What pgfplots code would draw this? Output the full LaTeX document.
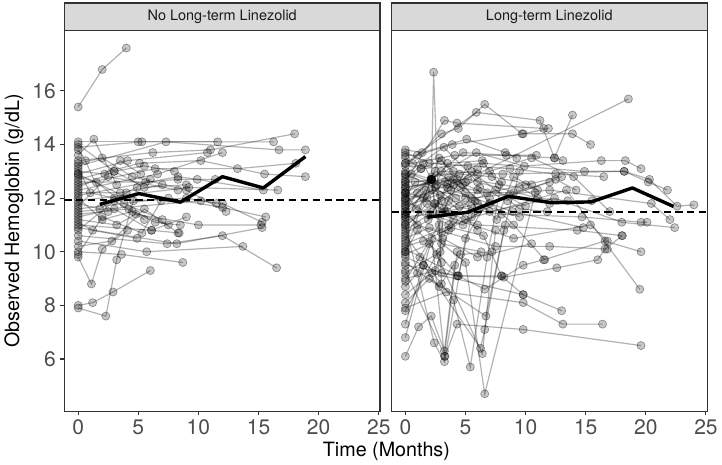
\documentclass[border=0pt]{standalone}
\usepackage{fontspec}
\setmainfont{TeX Gyre Heros}
\usepackage{pgfplots}
\pgfplotsset{compat=1.18}
\definecolor{grey10}{HTML}{1A1A1A}
\definecolor{grey20}{HTML}{333333}
\definecolor{grey30}{HTML}{4D4D4D}
\definecolor{grey85}{HTML}{D9D9D9}

\pgfplotsset{
  panel/.style={
    scale only axis, width=240.2pt, height=289.7pt,
    xmin=-1.15, xmax=25.1, ymin=4.05, ymax=18.25,
    axis line style={grey20, line width=0.8pt},
    xtick={0,5,...,25}, ytick={6,8,...,16},
    tick align=outside, major tick length=3pt,
    tick style={grey20, line width=0.8pt},
    xtick pos=left, ytick pos=left,
    ticklabel style={font=\fontsize{16}{19}\selectfont, text=grey30},
    /pgf/number format/assume math mode=true,
    clip mode=individual,
  },
  traj/.style={draw=black, draw opacity=0.3, line width=0.9pt,
    mark=*, mark size=3.1pt,
    mark options={fill=black, fill opacity=0.22, draw opacity=0.38, line width=0.5pt}},
  avg/.style={black, line width=2.6pt, line join=round, no marks},
  ref/.style={black, line width=1.3pt, dash pattern=on 5.5pt off 3.5pt, no marks},
}

\begin{document}
\begin{tikzpicture}
% ---------- No long-term linezolid ----------
\begin{axis}[panel, name=L,
  ylabel={Observed Hemoglobin (g/dL)},
  ylabel style={font=\fontsize{15}{18}\selectfont, text=black}]
\addplot[traj] coordinates {(0,15.4)(2.0,16.8)(4.0,17.6)};
\addplot[traj] coordinates {(0,8.0)(1.2,8.1)(2.9,8.5)(6.0,9.3)};
\addplot[traj] coordinates {(0,7.9)(2.3,7.6)(3.2,9.7)(4.9,12.4)};
\addplot[traj] coordinates {(0,9.8)(1.1,8.8)(2.0,10.1)(4.1,10.8)};
\addplot[traj] coordinates {(0,10.0)(3.6,9.9)(8.7,9.6)};
\addplot[traj] coordinates {(0,10.4)(5.7,10.0)(13.7,10.2)};
\addplot[traj] coordinates {(0,10.6)(7.4,10.3)(12.0,10.6)(16.5,9.4)};
\addplot[traj] coordinates {(0,10.9)(8.2,10.3)(15.3,10.9)};
\addplot[traj] coordinates {(0,14.1)(5.0,14.1)(11.6,14.1)};
\addplot[traj] coordinates {(0,13.9)(5.3,14.1)(16.25,14.1)};
\addplot[traj] coordinates {(0,13.6)(1.3,14.2)(3.2,12.5)};
\addplot[traj] coordinates {(0,13.4)(6.2,13.7)(11.0,13.8)(18.0,14.4)};
\addplot[traj] coordinates {(0,13.2)(7.3,14.1)(16.7,13.8)(18.9,13.8)};
\addplot[traj] coordinates {(0,12.9)(4.1,13.4)(10.75,13.7)};
\addplot[traj] coordinates {(0,12.7)(5.1,13.3)(10.2,13.4)(15.5,12.9)(18.9,12.8)};
\addplot[traj] coordinates {(0,12.5)(6.4,13.1)(13.25,13.1)(18.1,13.3)};
\addplot[traj] coordinates {(0,12.3)(6.6,12.9)(12.0,13.7)};
\addplot[traj] coordinates {(0,12.1)(8.3,12.8)(9.9,12.7)(15.4,12.3)};
\addplot[traj] coordinates {(0,11.9)(9.2,12.4)(16.6,12.3)};
\addplot[traj] coordinates {(0,11.7)(2.5,12.8)(8.3,12.3)};
\addplot[traj] coordinates {(0,11.6)(7.5,12.0)(12.0,11.65)(15.6,11.3)};
\addplot[traj] coordinates {(0,11.5)(10.2,11.9)(12.0,11.8)(15.3,11.1)};
\addplot[traj] coordinates {(0,11.3)(3.0,11.6)(6.1,10.8)(9.0,11.3)};
\addplot[traj] coordinates {(0,11.1)(1.2,10.8)(4.9,10.5)};
\addplot[traj] coordinates {(0,13.8)(0.6,13.4)(2.5,11.5)};
\addplot[traj] coordinates {(0,12.8)(1.5,12.6)(3.8,11.8)(7.0,11.2)};
\addplot[traj] coordinates {(0,12.0)(2.0,11.2)(4.5,11.5)(7.5,11.0)};
\addplot[traj] coordinates {(0,10.8)(3.0,11.9)(5.5,11.2)};
\addplot[traj] coordinates {(0,11.8)(1.8,11.6)(4.0,12.2)(6.0,12.7)};
\addplot[traj] coordinates {(0,12.4)(3.0,13.0)(5.5,12.4)(9.0,12.5)};
\addplot[traj] coordinates {(0,13.0)(2.2,12.9)(3.5,13.4)(5.2,12.9)};
\addplot[traj] coordinates {(0,10.2)(2.8,10.4)(5.5,11.6)(8.3,10.7)};
\addplot[traj] coordinates {(0,11.4)(4.2,11.6)(6.4,11.1)(8.5,11.0)};
\addplot[traj] coordinates {(0,12.6)(5.6,12.6)(8.3,12.7)(11.4,12.7)};
\addplot[traj] coordinates {(0,11.0)(6.1,10.8)(8.4,10.7)};
\addplot[traj] coordinates {(0,12.2)(3.5,12.2)(7.0,12.5)};
\addplot[traj] coordinates {(0,13.3)(2.0,13.5)(4.5,12.8)(9.0,12.3)(12.3,11.5)};
\addplot[traj] coordinates {(0,9.9)(2.0,11.3)(5.3,10.7)(6.9,11.9)};
\addplot[traj] coordinates {(0,13.1)(1.0,12.2)(3.0,12.0)};
\addplot[traj] coordinates {(0,12.9)(4.6,11.9)(9.0,12.0)(11.5,11.8)};
\addplot[traj] coordinates {(0,11.2)(3.2,11.0)(4.8,11.4)(10.0,11.0)(15.2,11.0)};
\addplot[traj] coordinates {(0,14.0)(3.0,13.0)(5.5,13.2)(8.0,13.0)};
\addplot[ref] coordinates {(-1.15,11.93)(25.1,11.93)};
\addplot[avg] coordinates {(1.8,11.77)(5.05,12.17)(8.5,11.85)(12.0,12.8)(15.4,12.38)(18.9,13.55)};
\end{axis}
% ---------- Long-term linezolid ----------
\begin{axis}[panel, name=R, at={(249pt,0)}, ytick=\empty]
\addplot[traj] coordinates {(0,12.4)(2.15,12.6)(2.35,16.7)(3.0,8.8)};
\addplot[traj] coordinates {(0,9.3)(3.3,6.1)(4.3,7.3)(9.8,7.1)(19.6,6.5)};
\addplot[traj] coordinates {(0,8.4)(2.2,9.2)(9.8,8.4)(13.0,7.8)};
\addplot[traj] coordinates {(0,7.9)(3.4,8.5)(9.8,8.1)(13.1,7.3)(16.4,7.3)};
\addplot[traj] coordinates {(0,11.4)(5.0,9.6)(6.6,4.7)(10.8,12.2)};
\addplot[traj] coordinates {(0,10.6)(4.0,8.2)(5.4,5.7)(6.8,9.8)(8.0,12.6)};
\addplot[traj] coordinates {(0,11.0)(2.4,6.6)(3.25,5.9)(5.0,10.5)(7.0,12.0)};
\addplot[traj] coordinates {(0,6.1)(1.1,7.2)(2.15,7.6)(3.25,6.3)(4.1,9.5)};
\addplot[traj] coordinates {(0,6.8)(2.2,10.5)(3.25,6.1)(4.3,10.0)};
\addplot[traj] coordinates {(0,7.3)(1.5,9.5)(6.25,6.4)(6.6,7.1)(8.2,10.8)};
\addplot[traj] coordinates {(0,7.8)(2.6,9.9)(6.4,6.2)(7.5,10.8)};
\addplot[traj] coordinates {(0,8.1)(2.0,9.0)(6.7,7.6)(8.3,11.0)(9.5,13.0)};
\addplot[traj] coordinates {(0,9.5)(4.4,9.1)(8.2,9.05)(12.6,9.4)(16.0,9.7)(16.6,10.1)(18.05,10.6)};
\addplot[traj] coordinates {(0,10.1)(6.6,8.6)(9.8,9.5)(11.5,9.7)(16.6,10.4)(19.6,10.0)};
\addplot[traj] coordinates {(0,10.3)(5.0,11.2)(13.4,12.3)(19.5,8.6)};
\addplot[traj] coordinates {(0,13.3)(5.9,15.2)(11.2,14.9)(12.4,13.5)(13.9,15.1)};
\addplot[traj] coordinates {(0,13.2)(3.0,14.4)(4.4,14.6)(6.6,15.5)(9.7,14.4)(13.9,14.4)(15.4,14.0)};
\addplot[traj] coordinates {(0,12.6)(3.25,14.9)(4.3,14.8)(11.5,14.6)};
\addplot[traj] coordinates {(0,11.9)(6.0,12.9)(18.55,15.7)};
\addplot[traj] coordinates {(0,13.8)(1.4,13.7)(5.1,14.2)(8.3,13.7)(9.26,13.5)};
\addplot[traj] coordinates {(0,13.6)(1.0,13.6)(3.9,14.0)(9.8,14.4)(11.9,14.6)};
\addplot[traj] coordinates {(0,13.3)(0.6,13.3)(4.1,13.6)(10.9,13.6)};
\addplot[traj] coordinates {(0,12.2)(2.16,12.7)(4.8,13.7)(8.4,13.6)(12.4,13.5)(13.1,13.4)};
\addplot[traj] coordinates {(0,11.8)(2.16,12.7)(5.9,13.7)(9.9,13.2)(16.3,13.4)(18.3,13.4)(19.6,13.1)};
\addplot[traj] coordinates {(0,12.5)(1.3,13.1)(6.5,13.3)(14.9,13.0)(18.2,13.0)(20.2,12.6)(21.8,12.3)};
\addplot[traj] coordinates {(0,12.0)(3.0,13.0)(8.1,12.9)(18.2,13.0)(20.3,12.7)(22.6,11.7)(24.0,11.75)};
\addplot[traj] coordinates {(0,11.6)(2.2,12.3)(5.5,12.0)(12.0,12.3)(20.46,11.8)(22.0,11.2)};
\addplot[traj] coordinates {(0,11.3)(3.3,12.6)(7.0,11.5)(12.4,12.0)(18.0,11.1)(22.4,10.9)};
\addplot[traj] coordinates {(0,11.1)(2.5,11.8)(8.0,11.4)(14.7,11.3)(19.6,11.1)(20.1,11.1)};
\addplot[traj] coordinates {(0,10.9)(1.8,11.8)(6.0,11.0)(14.3,10.8)(18.0,10.6)};
\addplot[traj] coordinates {(0,10.7)(2.8,11.4)(9.0,10.5)(15.4,11.0)(16.8,10.4)};
\addplot[traj] coordinates {(0,10.5)(2.0,10.9)(7.5,10.2)(12.0,10.2)(16.8,10.1)};
\addplot[traj] coordinates {(0,12.1)(1.5,12.0)(3.5,11.5)(6.0,11.8)(9.5,11.3)};
\addplot[traj] coordinates {(0,12.9)(2.5,12.4)(4.5,11.7)(7.5,12.3)(10.0,11.7)};
\addplot[traj] coordinates {(0,11.5)(1.0,11.0)(3.0,10.7)(5.5,11.3)(8.6,12.1)};
\addplot[traj] coordinates {(0,12.3)(3.6,12.8)(5.0,12.2)(9.0,12.2)(12.0,12.6)};
\addplot[traj] coordinates {(0,10.2)(1.5,10.4)(3.8,10.9)(6.5,10.6)(8.0,9.1)};
\addplot[traj] coordinates {(0,9.8)(1.5,9.5)(3.0,9.2)(4.3,9.1)(8.0,9.1)(9.8,8.4)};
\addplot[traj] coordinates {(0,9.6)(2.8,8.7)(4.6,9.9)(7.2,10.0)};
\addplot[traj] coordinates {(0,9.0)(2.5,9.3)(3.6,10.8)(5.5,11.7)};
\addplot[traj] coordinates {(0,8.9)(1.2,9.8)(2.8,11.0)(4.0,12.5)(6.0,13.1)};
\addplot[traj] coordinates {(0,12.7)(1.5,13.3)(2.16,12.7)(3.5,12.4)(5.0,12.6)};
\addplot[traj] coordinates {(0,13.0)(2.16,12.7)(2.8,13.5)(4.0,13.0)};
\addplot[traj] coordinates {(0,12.0)(0.8,12.6)(2.16,12.7)(4.2,12.0)(6.0,11.5)};
\addplot[traj] coordinates {(0,11.7)(2.16,12.7)(3.3,11.5)(5.0,12.0)};
\addplot[traj] coordinates {(0,11.2)(2.16,12.7)(3.0,10.3)(6.3,10.0)};
\addplot[traj] coordinates {(0,12.8)(0.5,12.9)(2.6,12.5)(4.5,12.9)(7.2,12.8)(10.5,12.5)};
\addplot[traj] coordinates {(0,10.4)(2.16,12.7)(2.4,11.8)(4.0,11.2)};
\addplot[traj] coordinates {(0,11.9)(3.6,11.0)(6.2,12.4)(8.5,11.9)};
\addplot[traj] coordinates {(0,12.4)(4.3,12.7)(7.6,11.2)(9.0,12.8)(11.0,12.3)};
\addplot[traj] coordinates {(0,9.2)(2.9,10.0)(3.2,11.6)(5.2,13.2)};
\addplot[traj] coordinates {(0,13.5)(1.3,13.1)(3.0,13.4)(4.8,12.5)};
\addplot[traj] coordinates {(0,10.8)(2.3,11.5)(4.0,12.7)(6.0,12.3)(9.0,11.0)(11.6,9.7)};
\addplot[traj] coordinates {(0,12.2)(1.8,12.0)(3.5,13.3)(6.4,13.4)(7.8,12.5)};
\addplot[traj] coordinates {(0,11.0)(3.0,11.9)(7.0,13.0)(10.5,13.5)(14.0,12.8)(17.0,11.5)};
\addplot[traj] coordinates {(0,9.9)(3.1,10.5)(6.0,9.8)(10.5,10.3)};
\addplot[traj] coordinates {(0,10.0)(1.0,10.8)(4.4,9.1)(5.8,11.9)};
\addplot[traj] coordinates {(0,11.4)(1.7,12.3)(2.9,12.1)(3.6,11.9)(6.0,10.8)};
\addplot[traj] coordinates {(0,12.6)(5.2,12.7)(9.5,12.4)(12.0,11.8)(15.5,11.9)};
\addplot[traj] coordinates {(0,13.7)(2.0,13.3)(8.7,13.1)(12.5,12.9)(16.5,12.8)};
\addplot[traj] coordinates {(0,11.3)(2.0,11.4)(4.8,11.0)(7.0,11.8)(12.5,12.7)(14.2,12.3)};
\addplot[traj] coordinates {(0,8.7)(1.0,9.2)(2.0,10.3)(3.0,9.6)};
\addplot[traj] coordinates {(0,12.9)(3.2,13.9)(6.0,12.6)(11.0,12.0)(13.5,11.9)};
\addplot[traj] coordinates {(0,11.5)(1.0,12.2)(2.5,13.0)(4.6,12.4)(6.8,12.2)(10.0,12.5)(13.0,12.8)};
\addplot[traj] coordinates {(0,11.7)(3.8,12.3)(8.9,11.5)(14.8,10.9)};
\addplot[traj] coordinates {(0,12.2)(0.9,11.6)(1.9,11.2)(3.5,12.5)};
\addplot[traj] coordinates {(0,10.0)(2.2,12.8)(5.5,13.0)(9.5,11.6)(11.8,11.5)};
\addplot[ref] coordinates {(-1.15,11.47)(25.1,11.47)};
\addplot[avg] coordinates {(1.83,11.29)(5.16,11.47)(8.57,12.07)(12.13,11.83)(15.46,11.86)(18.88,12.38)(22.3,11.69)};
\end{axis}
% facet strips
\draw[grey20, fill=grey85, line width=0.8pt] (L.north west) rectangle ([yshift=21pt]L.north east);
\draw[grey20, fill=grey85, line width=0.8pt] (R.north west) rectangle ([yshift=21pt]R.north east);
\node[text=grey10, font=\fontsize{11}{13}\selectfont] at ([yshift=10.5pt]L.north) {No Long-term Linezolid};
\node[text=grey10, font=\fontsize{11}{13}\selectfont] at ([yshift=10.5pt]R.north) {Long-term Linezolid};
\node[anchor=base, font=\fontsize{15}{18}\selectfont] at (245.1pt,-34.3pt) {Time (Months)};
\path (-43.3pt,313pt) rectangle (498.2pt,-40.3pt);
\end{tikzpicture}
\end{document}
